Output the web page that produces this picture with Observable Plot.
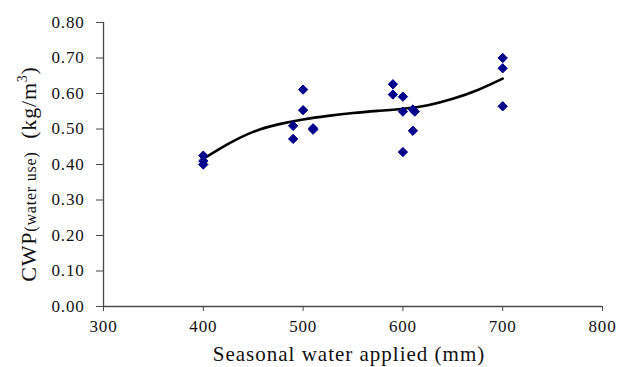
<!DOCTYPE html>
<html>
<head>
<meta charset="utf-8">
<script src="https://cdn.jsdelivr.net/npm/d3@7"></script>
<script src="https://cdn.jsdelivr.net/npm/@observablehq/plot@0.6"></script>
<style>
  html, body { margin: 0; padding: 0; background: #fff; }
  svg { display: block; }
</style>
</head>
<body>
<div id="chart"></div>
<script>
// Observed points: seasonal water applied (mm) and CWP (kg/m3)
const waterApplied = [400, 400, 400, 490, 490, 500, 500, 510, 510, 590, 590, 600, 600, 600, 610, 612, 610, 700, 700, 700];
const cwpValues    = [0.425, 0.41, 0.40, 0.509, 0.472, 0.611, 0.553, 0.502, 0.498, 0.626, 0.597, 0.591, 0.549, 0.435, 0.555, 0.549, 0.495, 0.700, 0.671, 0.564];

// Trend line
const trendX = [400, 425, 450, 475, 500, 525, 550, 575, 600, 625, 650, 675, 700];
const trendY = [0.416, 0.458, 0.492, 0.513, 0.527, 0.537, 0.545, 0.551, 0.557, 0.567, 0.585, 0.610, 0.642];

const xTicks = [300, 400, 500, 600, 700, 800];
const yTicks = [0, 0.1, 0.2, 0.3, 0.4, 0.5, 0.6, 0.7, 0.8];

const points = waterApplied.map((x, i) => ({x, y: cwpValues[i]}));
const trend = trendX.map((x, i) => ({x, y: trendY[i]}));

const axisColor = "#4a4a4a";
const font = "Liberation Serif, Times New Roman, serif";

const chart = Plot.plot({
  width: 621,
  height: 367,
  marginLeft: 103,
  marginRight: 19,
  marginTop: 22,
  marginBottom: 61,
  style: {fontFamily: font, fontSize: "17px", color: "#111", background: "#fff"},
  x: {domain: [300, 800], ticks: xTicks, label: null},
  y: {domain: [0, 0.8], ticks: yTicks, label: null},
  marks: [
    Plot.ruleX([300], {stroke: axisColor, strokeWidth: 1.3}),
    Plot.ruleY([0], {stroke: axisColor, strokeWidth: 1.3}),
    Plot.axisX({ticks: xTicks, tickSize: 5, tickPadding: 8, stroke: axisColor, tickFormat: d => d3.format("d")(d), fontSize: 17}),
    Plot.axisY({ticks: yTicks, tickSize: 7, tickPadding: 12, stroke: axisColor, tickFormat: d3.format(".2f"), fontSize: 17}),
    Plot.line(trend, {x: "x", y: "y", curve: "natural", stroke: "#000", strokeWidth: 2.6}),
    Plot.dot(points, {x: "x", y: "y", symbol: "diamond2", r: 4.2, fill: "#00008B", stroke: "#00008B", strokeWidth: 1})
  ]
});

const svg = d3.select(chart);
svg.selectAll("[aria-label='x-axis tick label'] text, [aria-label='y-axis tick label'] text")
  .style("letter-spacing", "0.8px");

// X axis title
svg.append("text")
  .attr("x", 349).attr("y", 361)
  .attr("text-anchor", "middle")
  .attr("font-family", font)
  .attr("font-size", 21)
  .attr("letter-spacing", "1px")
  .attr("fill", "#111")
  .text("Seasonal water applied (mm)");

// Y axis title with subscript & superscript
const yt = svg.append("text")
  .attr("transform", "translate(36,174) rotate(-90)")
  .attr("text-anchor", "middle")
  .attr("font-family", font)
  .attr("font-size", 22)
  .attr("letter-spacing", "0.8px")
  .attr("fill", "#111");
yt.append("tspan").text("CWP");
yt.append("tspan").attr("font-size", 16).text("(water use)");
yt.append("tspan").text("\u00a0 (kg/m");
yt.append("tspan").attr("font-size", 14).attr("dy", -9).text("3");
yt.append("tspan").attr("dy", 9).text(")");

document.getElementById("chart").appendChild(chart);
</script>
</body>
</html>
